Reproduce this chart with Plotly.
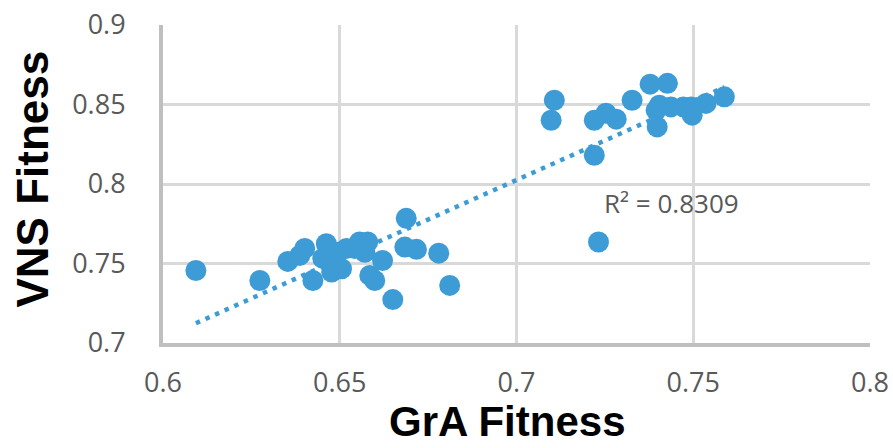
import numpy as np
import plotly.graph_objects as go

gra_fitness = [0.6093, 0.6274, 0.6353, 0.6401, 0.6387, 0.6462, 0.6424, 0.6452, 0.6477, 0.6505,
               0.6494, 0.6519, 0.6483, 0.6556, 0.6579, 0.6571, 0.6621, 0.6585, 0.6599, 0.6650,
               0.6688, 0.6684, 0.6717, 0.6780, 0.6811, 0.6542,
               0.7107, 0.7098, 0.7220, 0.7253, 0.7282, 0.7327, 0.7378, 0.7427, 0.7404, 0.7395,
               0.7437, 0.7398, 0.7472, 0.7494, 0.7497, 0.7536, 0.7588, 0.7220, 0.7232]
vns_fitness = [0.7456, 0.7393, 0.7513, 0.7595, 0.7551, 0.7624, 0.7393, 0.7532, 0.7446, 0.7467,
               0.7570, 0.7595, 0.7507, 0.7635, 0.7635, 0.7571, 0.7519, 0.7425, 0.7393, 0.7273,
               0.7784, 0.7603, 0.7589, 0.7565, 0.7362, 0.7595,
               0.8527, 0.8401, 0.8401, 0.8445, 0.8408, 0.8527, 0.8628, 0.8633, 0.8496, 0.8464,
               0.8485, 0.8359, 0.8485, 0.8485, 0.8433, 0.8507, 0.8548, 0.8181, 0.7635]
r2_label = "R² = 0.8309"
x_title = "GrA Fitness"
y_title = "VNS Fitness"
x_ticks = [0.6, 0.65, 0.7, 0.75, 0.8]
y_ticks = [0.7, 0.75, 0.8, 0.85, 0.9]

blue = "#3d9cd6"
grey_txt = "#595959"

slope, intercept = np.polyfit(gra_fitness, vns_fitness, 1)
tx = [min(gra_fitness), max(gra_fitness)]
ty = [slope * v + intercept for v in tx]

fig = go.Figure()
fig.add_trace(go.Scatter(x=tx, y=ty, mode="lines",
                         line=dict(color=blue, width=4.5, dash="4.5px,6px"),
                         hoverinfo="skip", showlegend=False))
fig.add_trace(go.Scatter(x=gra_fitness, y=vns_fitness, mode="markers",
                         marker=dict(color=blue, size=21, line=dict(width=0)),
                         showlegend=False))

fig.add_annotation(x=0.7243, y=0.788, xref="x", yref="y", text=r2_label,
                   showarrow=False, xanchor="left", yanchor="middle",
                   font=dict(family="Open Sans", size=26, color=grey_txt))

fig.add_annotation(x=0.487, y=-0.248, xref="paper", yref="paper", text=f"<b>{x_title}</b>",
                   showarrow=False, xanchor="center", yanchor="middle",
                   font=dict(family="Liberation Sans", size=42, color="black"))
fig.add_annotation(x=-0.184, y=0.517, xref="paper", yref="paper", text=f"<b>{y_title}</b>",
                   showarrow=False, xanchor="center", yanchor="middle", textangle=-90,
                   font=dict(family="Liberation Sans", size=44, color="black"))

axis_common = dict(showgrid=True, gridcolor="#d9d9d9", gridwidth=3,
                   showline=True, linecolor="#bfbfbf", linewidth=4,
                   zeroline=False, ticks="", automargin=False,
                   tickfont=dict(family="Open Sans", size=27, color=grey_txt))

fig.update_xaxes(range=[0.6, 0.8], tickvals=x_ticks, ticktext=[f"{v:g}" for v in x_ticks],
                 ticklabelstandoff=13, **axis_common)
fig.update_yaxes(range=[0.7, 0.9], tickvals=y_ticks, ticktext=[f"{v:g}" for v in y_ticks],
                 ticklabelstandoff=28, **axis_common)

fig.update_layout(width=893, height=448, margin=dict(l=163, r=23, t=25, b=105),
                  plot_bgcolor="white", paper_bgcolor="white")

fig.write_html("out.html")
